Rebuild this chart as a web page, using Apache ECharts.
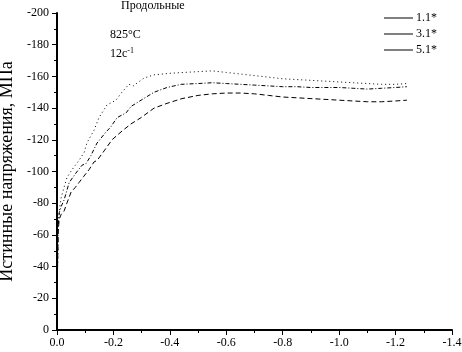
<!DOCTYPE html>
<html>
<head>
<meta charset="utf-8">
<script src="https://cdn.jsdelivr.net/npm/echarts@6/dist/echarts.min.js"></script>
<style>
  html, body { margin: 0; padding: 0; background: #fff; }
  #chart { width: 462px; height: 352px; }
</style>
</head>
<body>
<div id="chart"></div>
<script>
// данные (деформация и напряжение)
const seriesNames = ['1.1*', '3.1*', '5.1*'];

const strain11 = [0, -0.002, -0.004, -0.008, -0.014, -0.025, -0.035, -0.045, -0.053, -0.065, -0.078, -0.096, -0.106, -0.131, -0.149, -0.177, -0.209, -0.23, -0.255, -0.27, -0.309, -0.344, -0.404, -0.45, -0.5, -0.55, -0.6, -0.65, -0.7, -0.75, -0.8, -0.85, -0.9, -0.95, -1.0, -1.05, -1.1, -1.15, -1.2, -1.24];
const stress11 = [-10, -40, -65, -75, -83, -90, -96, -99, -101, -104, -107, -112, -118, -126, -134, -142, -145, -150, -155, -154, -159, -161, -162, -162.5, -163, -163.5, -162.5, -161.5, -160.5, -159.5, -158.5, -158, -157.5, -157, -156.5, -156, -155.5, -155, -155, -155.5];

const strain31 = [0, -0.002, -0.004, -0.008, -0.015, -0.025, -0.035, -0.043, -0.055, -0.067, -0.08, -0.089, -0.103, -0.12, -0.142, -0.174, -0.19, -0.213, -0.245, -0.262, -0.298, -0.344, -0.39, -0.44, -0.5, -0.55, -0.6, -0.65, -0.7, -0.75, -0.8, -0.85, -0.9, -0.95, -1.0, -1.05, -1.1, -1.15, -1.2, -1.24];
const stress31 = [-10, -40, -65, -74, -78, -82, -88, -93, -96, -99, -102, -104, -105, -110, -118, -125, -128, -134, -137, -141, -145, -150, -153, -155, -155.5, -156, -155.5, -155, -154.5, -154, -153.5, -153.5, -153, -153, -153, -152.5, -152, -152.5, -153, -153.5];

const strain51 = [0, -0.002, -0.004, -0.008, -0.015, -0.025, -0.035, -0.05, -0.065, -0.078, -0.095, -0.113, -0.131, -0.142, -0.167, -0.195, -0.227, -0.262, -0.298, -0.344, -0.39, -0.443, -0.5, -0.55, -0.6, -0.65, -0.7, -0.75, -0.8, -0.85, -0.9, -0.95, -1.0, -1.05, -1.1, -1.15, -1.2, -1.24];
const stress51 = [-10, -40, -62, -70, -73, -75, -80, -87, -90, -93, -97, -101, -106, -107, -113, -120, -125, -130, -134, -140, -143, -146, -148, -149, -149.5, -149.5, -149, -148, -147, -146.5, -146, -145.5, -145, -144.5, -144, -144, -144.5, -145];

function pairs(xs, ys) {
    return xs.map((x, i) => [x, ys[i]]);
}

const font = 'Liberation Serif';
const chart = echarts.init(document.getElementById('chart'));

const lineBase = { color: '#000', width: 1 };

chart.setOption({
    animation: false,
    backgroundColor: '#fff',
    textStyle: { fontFamily: font, color: '#000' },
    grid: { left: 57, right: 10, top: 13, bottom: 22, outerBoundsMode: 'none', containLabel: false },
    legend: {
        orient: 'vertical',
        left: 384,
        top: 12,
        padding: 0,
        icon: 'rect',
        itemWidth: 29,
        itemHeight: 1,
        itemGap: 4,
        data: seriesNames,
        textStyle: { fontFamily: font, fontSize: 12, color: '#000', padding: [0, 0, 0, -2] },
        itemStyle: { color: '#000' }
    },
    xAxis: {
        type: 'value',
        inverse: true,
        min: -1.4,
        max: 0,
        interval: 0.2,
        splitLine: { show: false },
        axisLine: { onZero: false, lineStyle: { color: '#000', width: 2 } },
        axisTick: { length: 5, lineStyle: { color: '#000', width: 1 } },
        minorTick: { show: true, splitNumber: 2, length: 3, lineStyle: { color: '#000' } },
        axisLabel: {
            fontFamily: font, fontSize: 12, color: '#000', margin: 7,
            formatter: v => v.toFixed(1)
        }
    },
    yAxis: {
        type: 'value',
        inverse: true,
        min: -200,
        max: 0,
        interval: 20,
        splitLine: { show: false },
        axisLine: { onZero: false, lineStyle: { color: '#000', width: 2 } },
        axisTick: { length: 5, lineStyle: { color: '#000', width: 1 } },
        minorTick: { show: true, splitNumber: 2, length: 3, lineStyle: { color: '#000' } },
        axisLabel: { fontFamily: font, fontSize: 12, color: '#000', margin: 8 },
        name: 'Истинные напряжения, МПа',
        nameLocation: 'middle',
        nameGap: 32,
        nameTextStyle: { fontFamily: font, fontSize: 18, color: '#000' }
    },
    graphic: [
        { type: 'text', left: 121, top: 0, style: { text: 'Продольные', font: '12px "Liberation Serif"', fill: '#000' } },
        { type: 'text', left: 110, top: 29, style: { text: '825°C', font: '12px "Liberation Serif"', fill: '#000' } },
        {
            type: 'text', left: 110, top: 47,
            style: {
                text: '12c{s|-1}',
                font: '12px "Liberation Serif"',
                fill: '#000',
                rich: { s: { fontSize: 8, fontFamily: font, verticalAlign: 'top', padding: [0, 0, 6, 0] } }
            }
        }
    ],
    series: [
        {
            name: seriesNames[0], type: 'line', symbol: 'none',
            lineStyle: Object.assign({}, lineBase, { type: [1, 3] }),
            itemStyle: { color: '#000' },
            data: pairs(strain11, stress11)
        },
        {
            name: seriesNames[1], type: 'line', symbol: 'none',
            lineStyle: Object.assign({}, lineBase, { type: [4, 2, 1, 2] }),
            itemStyle: { color: '#000' },
            data: pairs(strain31, stress31)
        },
        {
            name: seriesNames[2], type: 'line', symbol: 'none',
            lineStyle: Object.assign({}, lineBase, { type: [5, 3] }),
            itemStyle: { color: '#000' },
            data: pairs(strain51, stress51)
        }
    ]
});
</script>
</body>
</html>
